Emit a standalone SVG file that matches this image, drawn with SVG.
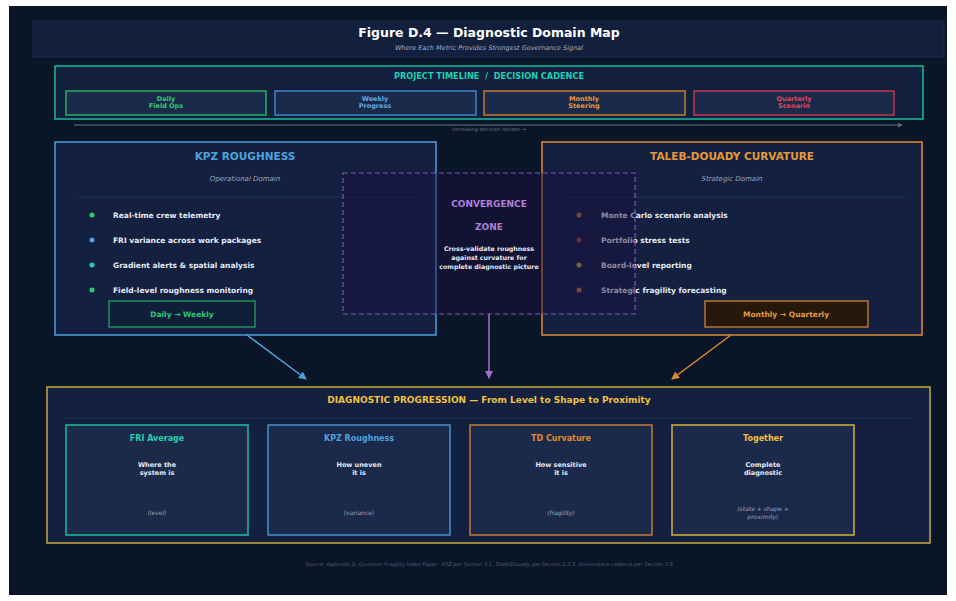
<svg xmlns="http://www.w3.org/2000/svg" width="956" height="601" viewBox="0 0 956 601">
<style>
text{font-family:"DejaVu Sans","Liberation Sans",sans-serif;}
.c{text-anchor:middle;}
.b{font-weight:bold;}
.i{font-style:italic;}
.item{font-size:7.5px;font-weight:bold;fill:#e6ebf5;}
.tl{fill:#1b2a4a;stroke-width:1.5;}
.card{fill:#1b2a4a;stroke-width:1.5;}
.ct{font-size:8px;font-weight:bold;text-anchor:middle;}
.cb{font-size:6.5px;font-weight:bold;fill:#e6ebf5;text-anchor:middle;}
.ci{font-size:6px;font-style:italic;fill:#9aa6bf;text-anchor:middle;}
</style>
<defs>
<marker id="aBlue" markerWidth="8" markerHeight="8" refX="7" refY="4" orient="auto" markerUnits="userSpaceOnUse"><path d="M0,0 L8,4 L0,8 Z" fill="#4aa3df"/></marker>
<marker id="aPurple" markerWidth="8" markerHeight="8" refX="7" refY="4" orient="auto" markerUnits="userSpaceOnUse"><path d="M0,0 L8,4 L0,8 Z" fill="#a070d0"/></marker>
<marker id="aOrange" markerWidth="8" markerHeight="8" refX="7" refY="4" orient="auto" markerUnits="userSpaceOnUse"><path d="M0,0 L8,4 L0,8 Z" fill="#e08a2e"/></marker>
<marker id="aGold" markerWidth="6" markerHeight="6" refX="5" refY="3" orient="auto" markerUnits="userSpaceOnUse"><path d="M0,0 L6,3 L0,6 Z" fill="#f0c040"/></marker>
<marker id="aGray" markerWidth="5" markerHeight="5" refX="4" refY="2.5" orient="auto" markerUnits="userSpaceOnUse"><path d="M0,0 L5,2.5 L0,5 Z" fill="#5a6478"/></marker>
</defs>
<rect x="0" y="0" width="956" height="601" fill="#ffffff"/>
<rect x="9" y="6" width="938" height="589" fill="#0b1528"/>

<g id="header">
<rect x="33" y="21" width="911" height="36" fill="#121f3d" stroke="#1c2b4d" stroke-width="1"/>
<text x="489" y="37" class="c b" font-size="12.5" fill="#ffffff">Figure D.4 — Diagnostic Domain Map</text>
<text x="489" y="49.5" class="c i" font-size="6.5" fill="#a8b2c8">Where Each Metric Provides Strongest Governance Signal</text>
</g>

<g id="timeline">
<rect x="55" y="66" width="868" height="53" fill="#121f3d" stroke="#1abc9c" stroke-width="1.5"/>
<text x="489" y="79" class="c b" font-size="8.2" fill="#1fd1b0" style="white-space:pre">PROJECT TIMELINE  /  DECISION CADENCE</text>
<g id="daily"><rect x="66" y="91" width="200" height="24" class="tl" stroke="#27ae60"/>
<text x="166" y="101" class="c b" font-size="6.5" fill="#2ecc71">Daily</text><text x="166" y="108" class="c b" font-size="6.5" fill="#2ecc71">Field Ops</text></g>
<g id="weekly"><rect x="275" y="91" width="201" height="24" class="tl" stroke="#3d85c6"/>
<text x="375" y="101" class="c b" font-size="6.5" fill="#5dade2">Weekly</text><text x="375" y="108" class="c b" font-size="6.5" fill="#5dade2">Progress</text></g>
<g id="monthly"><rect x="484" y="91" width="201" height="24" class="tl" stroke="#c87a30"/>
<text x="584" y="101" class="c b" font-size="6.5" fill="#e59a3a">Monthly</text><text x="584" y="108" class="c b" font-size="6.5" fill="#e59a3a">Steering</text></g>
<g id="quarterly"><rect x="694" y="91" width="200" height="24" class="tl" stroke="#c0394f"/>
<text x="794" y="101" class="c b" font-size="6.5" fill="#e0455d">Quarterly</text><text x="794" y="108" class="c b" font-size="6.5" fill="#e0455d">Scenario</text></g>
<line x1="74" y1="125" x2="902" y2="125" stroke="#4a5468" stroke-width="1.5" marker-end="url(#aGray)"/>
<text x="489" y="131" class="c i" font-size="5" fill="#6a7488">increasing decision horizon →</text>
</g>

<g id="kpz">
<rect x="55" y="142" width="381" height="193" fill="#13203f" stroke="#4aa3df" stroke-width="1.5"/>
<text x="245" y="160" class="c b" font-size="10.5" fill="#4aa3df">KPZ ROUGHNESS</text>
<text x="245" y="181" class="c i" font-size="7" fill="#9aa6bf">Operational Domain</text>
<line x1="78" y1="197" x2="420" y2="197" stroke="#213258" stroke-width="1"/>
<circle cx="92" cy="215" r="2.5" fill="#2ecc71"/><text x="113" y="218" class="item">Real-time crew telemetry</text>
<circle cx="92" cy="240" r="2.5" fill="#4aa3df"/><text x="113" y="243" class="item">FRI variance across work packages</text>
<circle cx="92" cy="265" r="2.5" fill="#1fd1b0"/><text x="113" y="268" class="item">Gradient alerts &amp; spatial analysis</text>
<circle cx="92" cy="290" r="2.5" fill="#2ecc71"/><text x="113" y="293" class="item">Field-level roughness monitoring</text>
<rect x="109" y="301" width="146" height="26" fill="#0f1f3a" stroke="#27ae60" stroke-width="1.2"/>
<text x="182" y="317" class="c b" font-size="7.5" fill="#2ecc71">Daily → Weekly</text>
</g>

<g id="td">
<rect x="542" y="142" width="380" height="193" fill="#13203f" stroke="#e08a2e" stroke-width="1.5"/>
<text x="732" y="160" class="c b" font-size="10.5" fill="#e59a3a">TALEB-DOUADY CURVATURE</text>
<text x="732" y="181" class="c i" font-size="7" fill="#9aa6bf">Strategic Domain</text>
<line x1="565" y1="197" x2="905" y2="197" stroke="#213258" stroke-width="1"/>
<circle cx="579" cy="215" r="2.5" fill="#c8753a"/><text x="601" y="218" class="item">Monte Carlo scenario analysis</text>
<circle cx="579" cy="240" r="2.5" fill="#c0394f"/><text x="601" y="243" class="item">Portfolio stress tests</text>
<circle cx="579" cy="265" r="2.5" fill="#c9a040"/><text x="601" y="268" class="item">Board-level reporting</text>
<circle cx="579" cy="290" r="2.5" fill="#c8753a"/><text x="601" y="293" class="item">Strategic fragility forecasting</text>
<rect x="705" y="301" width="163" height="26" fill="#26190c" stroke="#e08a2e" stroke-width="1.2"/>
<text x="786" y="317" class="c b" font-size="7.5" fill="#e59a3a">Monthly → Quarterly</text>
</g>

<g id="convergence">
<rect x="343" y="173" width="292" height="141" fill="#1a0f40" fill-opacity="0.45" stroke="#7e57b8" stroke-width="1.2" stroke-dasharray="5,3"/>
<text x="489" y="207" class="c b" font-size="9" fill="#b07fd8">CONVERGENCE</text>
<text x="489" y="230" class="c b" font-size="9" fill="#b07fd8">ZONE</text>
<text x="489" y="251" class="c b" font-size="6.3" fill="#e6ebf5">Cross-validate roughness</text>
<text x="489" y="260" class="c b" font-size="6.3" fill="#e6ebf5">against curvature for</text>
<text x="489" y="269" class="c b" font-size="6.3" fill="#e6ebf5">complete diagnostic picture</text>
</g>

<g id="connectors">
<line x1="247" y1="335" x2="306" y2="379" stroke="#4aa3df" stroke-width="1.5" marker-end="url(#aBlue)"/>
<line x1="489" y1="314" x2="489" y2="378" stroke="#a070d0" stroke-width="1.5" marker-end="url(#aPurple)"/>
<line x1="731" y1="335" x2="672" y2="379" stroke="#e08a2e" stroke-width="1.5" marker-end="url(#aOrange)"/>
<line x1="251" y1="480" x2="263" y2="480" stroke="#f0c040" stroke-width="1.5" marker-end="url(#aGold)"/>
<line x1="453" y1="480" x2="465" y2="480" stroke="#f0c040" stroke-width="1.5" marker-end="url(#aGold)"/>
<line x1="655" y1="480" x2="667" y2="480" stroke="#f0c040" stroke-width="1.5" marker-end="url(#aGold)"/>
</g>

<g id="progression">
<rect x="47" y="387" width="883" height="156" fill="#13203f" stroke="#c9a83a" stroke-width="1.5"/>
<text x="489" y="403" class="c b" font-size="9" fill="#f0c040">DIAGNOSTIC PROGRESSION — From Level to Shape to Proximity</text>
<line x1="66" y1="418" x2="911" y2="418" stroke="#213258" stroke-width="1"/>
</g>

<g id="fri-average">
<rect x="66" y="425" width="182" height="110" class="card" stroke="#1abc9c"/>
<text x="157" y="441" class="ct" fill="#1fd1b0">FRI Average</text>
<text x="157" y="467" class="cb">Where the</text><text x="157" y="475" class="cb">system is</text>
<text x="157" y="515" class="ci">(level)</text>
</g>
<g id="kpz-card">
<rect x="268" y="425" width="182" height="110" class="card" stroke="#4a90c8"/>
<text x="359" y="441" class="ct" fill="#4aa3df">KPZ Roughness</text>
<text x="359" y="467" class="cb">How uneven</text><text x="359" y="475" class="cb">it is</text>
<text x="359" y="515" class="ci">(variance)</text>
</g>
<g id="td-card">
<rect x="470" y="425" width="182" height="110" class="card" stroke="#c87a30"/>
<text x="561" y="441" class="ct" fill="#e08a2e">TD Curvature</text>
<text x="561" y="467" class="cb">How sensitive</text><text x="561" y="475" class="cb">it is</text>
<text x="561" y="515" class="ci">(fragility)</text>
</g>
<g id="together">
<rect x="672" y="425" width="182" height="110" class="card" stroke="#d4b03a"/>
<text x="763" y="441" class="ct" fill="#f0c040">Together</text>
<text x="763" y="467" class="cb">Complete</text><text x="763" y="475" class="cb">diagnostic</text>
<text x="763" y="511" class="ci">(state + shape +</text><text x="763" y="519" class="ci">proximity)</text>
</g>

<text x="489" y="566" class="c i" font-size="5.1" fill="#4e5a72">Source: Appendix D, Quantum Fragility Index Paper  ·  KPZ per Section 3.1, Taleb/Douady per Section 2.3.3, Governance cadence per Section 3.8</text>
</svg>
